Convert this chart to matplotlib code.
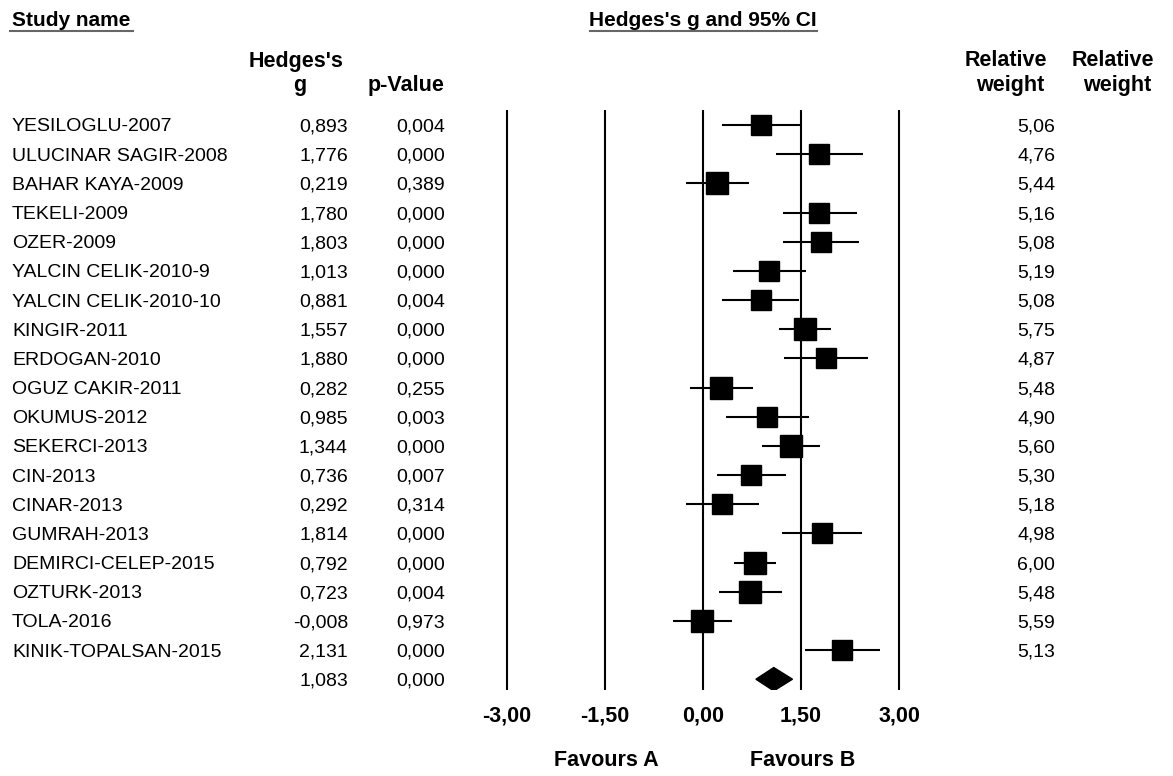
import matplotlib
matplotlib.use('Agg')
import matplotlib.pyplot as plt
import matplotlib.transforms as mtransforms
from matplotlib.lines import Line2D
import numpy as np

plt.rcParams['font.family'] = ['Liberation Sans', 'DejaVu Sans']

# 数据
studies = ['YESILOGLU-2007', 'ULUCINAR SAGIR-2008', 'BAHAR KAYA-2009', 'TEKELI-2009',
           'OZER-2009', 'YALCIN CELIK-2010-9', 'YALCIN CELIK-2010-10', 'KINGIR-2011',
           'ERDOGAN-2010', 'OGUZ CAKIR-2011', 'OKUMUS-2012', 'SEKERCI-2013', 'CIN-2013',
           'CINAR-2013', 'GUMRAH-2013', 'DEMIRCI-CELEP-2015', 'OZTURK-2013', 'TOLA-2016',
           'KINIK-TOPALSAN-2015']
g_vals = [0.893, 1.776, 0.219, 1.780, 1.803, 1.013, 0.881, 1.557, 1.880, 0.282,
          0.985, 1.344, 0.736, 0.292, 1.814, 0.792, 0.723, -0.008, 2.131]
p_vals = [0.004, 0.000, 0.389, 0.000, 0.000, 0.000, 0.004, 0.000, 0.000, 0.255,
          0.003, 0.000, 0.007, 0.314, 0.000, 0.000, 0.004, 0.973, 0.000]
ci_low = [0.297, 1.110, -0.266, 1.218, 1.222, 0.462, 0.294, 1.165, 1.238, -0.196,
          0.352, 0.904, 0.213, -0.266, 1.202, 0.478, 0.250, -0.455, 1.560]
ci_high = [1.489, 2.448, 0.708, 2.350, 2.392, 1.570, 1.474, 1.955, 2.530, 0.764,
           1.621, 1.790, 1.264, 0.854, 2.430, 1.110, 1.205, 0.437, 2.705]
weights = [5.06, 4.76, 5.44, 5.16, 5.08, 5.19, 5.08, 5.75, 4.87, 5.48,
           4.90, 5.60, 5.30, 5.18, 4.98, 6.00, 5.48, 5.59, 5.13]
summary_g = 1.083
summary_p = 0.000
summary_low = 0.81
summary_high = 1.37
tick_vals = [-3.0, -1.5, 0.0, 1.5, 3.0]


def comma(v, nd=3):
    return f'{v:.{nd}f}'.replace('.', ',')


W, H = 1173, 776
fig = plt.figure(figsize=(W / 100, H / 100), dpi=100)

# 森林图区域（像素换算）
ax_left = 703 - 3.3 * 65.33
ax_w = 6.6 * 65.33
ax = fig.add_axes([ax_left / W, (H - 690) / H, ax_w / W, 580 / H])
ax.set_xlim(-3.3, 3.3)
ax.set_ylim(19.37, -0.514)
for s in ax.spines.values():
    s.set_visible(False)
ax.tick_params(axis='both', length=0)
ax.set_yticks([])
ax.set_xticks(tick_vals)
ax.set_xticklabels([comma(t, 2) for t in tick_vals], fontsize=15.5, fontweight='bold')
ax.tick_params(axis='x', pad=11)

for t in tick_vals:
    ax.axvline(t, color='black', lw=1.5, zorder=1)

n = len(studies)
rows = np.arange(n)
ax.hlines(rows, ci_low, ci_high, color='black', lw=1.5, zorder=2)
for i in range(n):
    side_px = 20.2 + (weights[i] - 4.76) * 1.3
    ax.plot(g_vals[i], rows[i], marker='s', color='black', ms=side_px * 0.72,
            linestyle='none', zorder=3)

# 合并效应菱形
yd = n
ax.fill([summary_low, summary_g, summary_high, summary_g],
        [yd, yd - 0.4, yd, yd + 0.4], color='black', zorder=3)

# 文字列
tr = mtransforms.blended_transform_factory(fig.transFigure, ax.transData)
kw = dict(transform=tr, va='center_baseline', fontsize=14)
for i in range(n):
    ax.text(12 / W, i, studies[i], ha='left', **kw)
    ax.text(348 / W, i, comma(g_vals[i]), ha='right', **kw)
    ax.text(445 / W, i, comma(p_vals[i]), ha='right', **kw)
    ax.text(1055 / W, i, comma(weights[i], 2), ha='right', **kw)
ax.text(348 / W, yd, comma(summary_g), ha='right', **kw)
ax.text(445 / W, yd, comma(summary_p), ha='right', **kw)


def ftext(x, y, s, size=15.5, **kw):
    fig.text(x / W, 1 - y / H, s, va='center', fontsize=size, fontweight='bold', **kw)


ftext(12, 20, 'Study name', size=15, ha='left')
ftext(703, 20, "Hedges's g and 95% CI", size=15, ha='center')
fig.add_artist(Line2D([10 / W, 133 / W], [1 - 31 / H, 1 - 31 / H], color='#666666', lw=1.5))
fig.add_artist(Line2D([590 / W, 817 / W], [1 - 31 / H, 1 - 31 / H], color='#666666', lw=1.5))

ftext(296, 61, "Hedges's", ha='center')
ftext(300, 86, 'g', ha='center')
ftext(406, 86, 'p-Value', ha='center')
ftext(1006, 60, 'Relative', ha='center')
ftext(1010, 85, 'weight', ha='center')
ftext(1113, 60, 'Relative', ha='center')
ftext(1117, 85, 'weight', ha='center')

ftext(606, 760, 'Favours A', ha='center')
ftext(803, 760, 'Favours B', ha='center')

fig.savefig('out.png', dpi=100, facecolor='white')
